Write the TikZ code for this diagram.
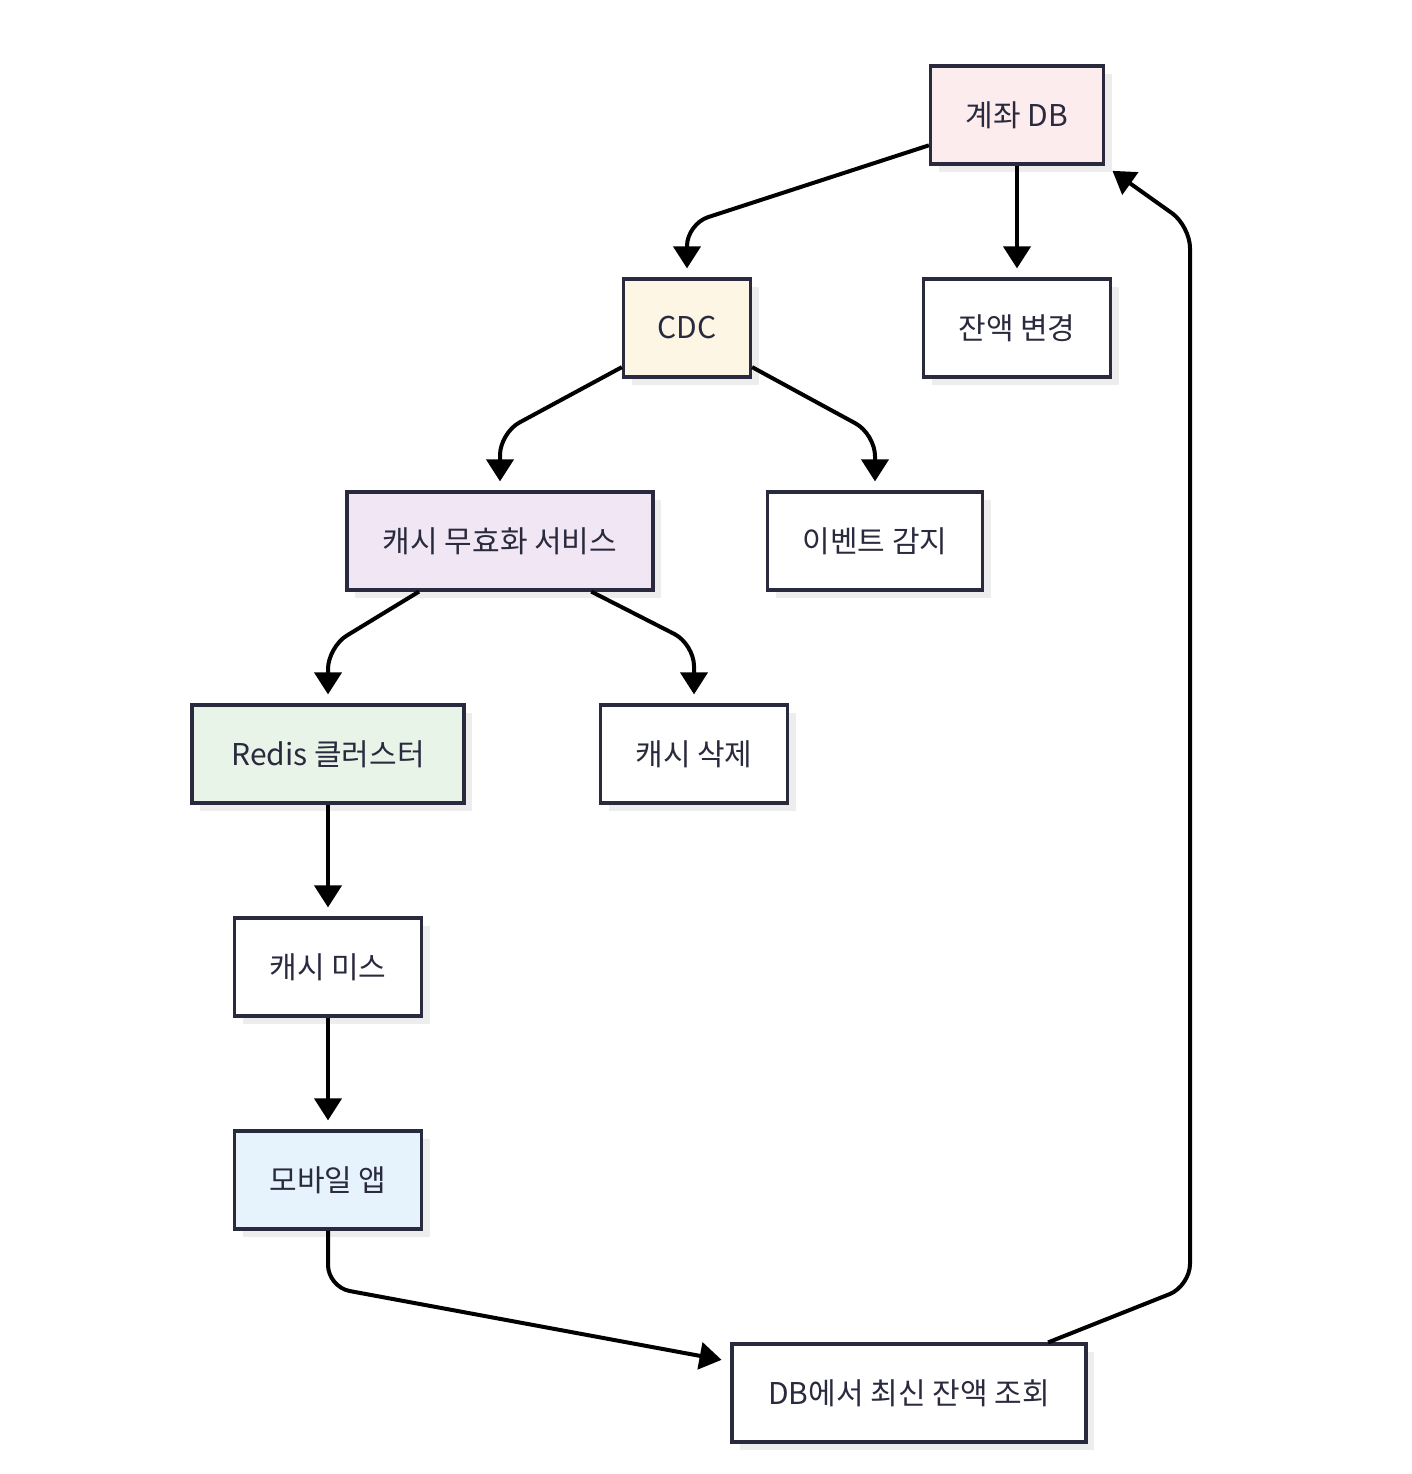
\documentclass[tikz,border=0pt]{standalone}
\usepackage{fontspec}
\setmainfont{Noto Sans CJK KR}
\usetikzlibrary{arrows.meta,shadows}
\definecolor{edgenavy}{HTML}{2A2A3E}
\definecolor{shadowgray}{HTML}{EDEDED}
\definecolor{dbpink}{HTML}{FDECEE}
\definecolor{cdccream}{HTML}{FDF6E4}
\definecolor{svclavender}{HTML}{F1E6F4}
\definecolor{redisgreen}{HTML}{E9F4E9}
\definecolor{appblue}{HTML}{E6F2FC}
\tikzset{
  box/.style={draw=edgenavy, line width=3.2pt, fill=white, minimum height=98pt,
    text=edgenavy, font=\fontsize{30}{35}\selectfont,
    drop shadow={shadow xshift=8pt, shadow yshift=-8pt, fill=shadowgray, opacity=1}},
  flow/.style={draw=black, line width=4pt, -{Triangle[length=22pt,width=27pt]},
    rounded corners=22pt, shorten >=9pt}
}
\begin{document}
\begin{tikzpicture}[x=1pt,y=-1pt]
    \useasboundingbox (0,0) rectangle (1412,1474);
    \node[box, fill=dbpink, minimum width=173pt] (acctdb) at (1017,115) {계좌 DB};
    \node[box, fill=cdccream, minimum width=127pt] (cdc) at (687,328) {CDC};
    \node[box, minimum width=187pt] (balchg) at (1017,328) {잔액 변경};
    \node[box, fill=svclavender, minimum width=306pt] (invsvc) at (500,541) {캐시 무효화 서비스};
    \node[box, minimum width=215pt] (evdetect) at (875,541) {이벤트 감지};
    \node[box, fill=redisgreen, minimum width=272pt] (redis) at (328,754) {Redis 클러스터};
    \node[box, minimum width=187pt] (cachedel) at (694,754) {캐시 삭제};
    \node[box, minimum width=187pt] (cachemiss) at (328,967) {캐시 미스};
    \node[box, fill=appblue, minimum width=187pt] (mobile) at (328,1180) {모바일 앱};
    \node[box, minimum width=354pt] (dbquery) at (909,1393) {DB에서 최신 잔액 조회};

    \draw[flow] (acctdb.199) -- (687,224) -- (cdc.north);
    \draw[flow] (acctdb.south) -- (balchg.north);
    \draw[flow] (cdc.211) -- (500,433) -- (invsvc.north);
    \draw[flow] (cdc.329) -- (875,434) -- (evdetect.north);
    \draw[flow] (invsvc.212) -- (328,647) -- (redis.north);
    \draw[flow] (invsvc.331.5) -- (694,644) -- (cachedel.north);
    \draw[flow] (redis.south) -- (cachemiss.north);
    \draw[flow] (cachemiss.south) -- (mobile.north);
    \draw[flow] (mobile.south) -- (328,1287) -- (dbquery.170);
    \draw[flow] (dbquery.20.5) -- (1190,1286) -- (1190,226) -- (acctdb.south east);
\end{tikzpicture}
\end{document}
